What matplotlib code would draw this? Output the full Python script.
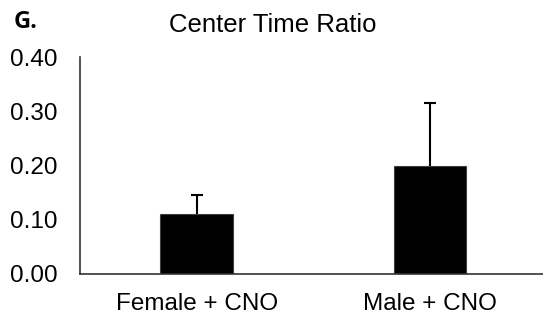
import matplotlib
matplotlib.use("Agg")
import matplotlib.pyplot as plt
import numpy as np

categories = ["Female + CNO", "Male + CNO"]
values = [0.11, 0.20]
errors = [0.036, 0.115]
yticks = [0.00, 0.10, 0.20, 0.30, 0.40]

plt.rcParams['font.family'] = ['Liberation Sans', 'DejaVu Sans']

W, H = 543, 322
fig = plt.figure(figsize=(W / 100, H / 100), dpi=100)
left, bottom, top = 80 / W, 1 - 274 / H, 1 - 57 / H
ax = fig.add_axes([left, bottom, 1 - left, top - bottom])

x = list(range(len(categories)))
ax.bar(x, values, width=0.31, color='black', edgecolor='#404040', linewidth=0.8, zorder=2)
eb = ax.errorbar(x, values, yerr=[[0] * len(errors), errors], fmt='none', ecolor='black',
                 elinewidth=1.5, capsize=4.3, capthick=1.5, zorder=1)
for cl in eb[1]:
    if np.allclose(cl.get_ydata(), values):
        cl.set_visible(False)

ax.set_xlim(-0.5, 1.5 - 3.5 / 233)
ax.set_ylim(0, 0.40)
ax.set_yticks(yticks)
ax.set_yticklabels([f"{v:.2f}" for v in yticks])
ax.set_xticks(x)
ax.set_xticklabels(categories)
ax.tick_params(axis='both', length=0, labelsize=17.5, colors='black')
ax.tick_params(axis='y', pad=16)
ax.tick_params(axis='x', pad=14)
for s in ['top', 'right']:
    ax.spines[s].set_visible(False)
for s in ['left', 'bottom']:
    ax.spines[s].set_color('#333333')
    ax.spines[s].set_linewidth(1.2)
    ax.spines[s].set_zorder(3)

fig.text(273 / W, 1 - 25 / H, "Center Time Ratio", ha='center', va='center', fontsize=18.5)
fig.text(14 / W, 1 - 28 / H, "G.", ha='left', va='baseline', fontsize=17,
         fontweight='bold', family=['Open Sans', 'DejaVu Sans'])

fig.savefig("out.png", dpi=100)
